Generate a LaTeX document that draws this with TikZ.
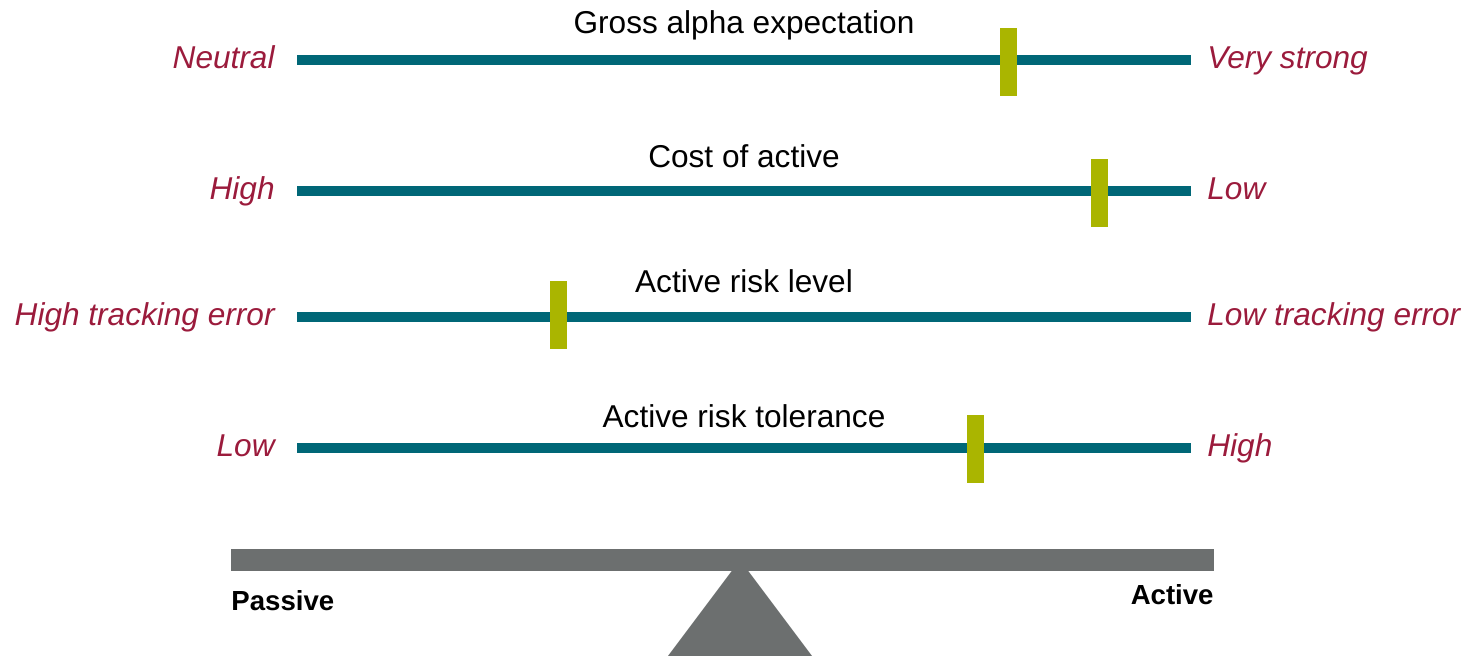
\documentclass[tikz,border=0pt]{standalone}
\usepackage{fontspec}
\setmainfont{Liberation Sans}
\usepackage{tikz}
\usetikzlibrary{positioning}
\definecolor{barteal}{RGB}{0,103,119}
\definecolor{markolive}{RGB}{170,181,0}
\definecolor{polered}{RGB}{155,27,60}
\definecolor{beamgray}{RGB}{108,111,111}

\begin{document}
\begin{tikzpicture}
    [ x = .5pt, y = .5pt
    , bar/.style =
      { barteal, line width=5pt }
    , marker/.style =
      { fill=markolive, inner sep=0pt, minimum width=8.5pt, minimum height=34pt }
    , title/.style =
      { font=\fontsize{15.8}{19}\selectfont, inner sep=0pt, text height=9pt, text depth=3.5pt }
    , pole/.style =
      { title, polered, font=\fontsize{15.8}{19}\selectfont\itshape, yshift=-1.75pt }
    , side/.style =
      { font=\fontsize{13.8}{16}\selectfont\bfseries, inner sep=0pt }
    ]
    \useasboundingbox (0,0) rectangle (1469,656);

    % scale ends
    \coordinate (l1) at (297,596);
    \coordinate (r1) at (1191,596);
    \coordinate (c1) at (744,596);
    \coordinate (l2) at (297,465);
    \coordinate (r2) at (1191,465);
    \coordinate (c2) at (744,465);
    \coordinate (l3) at (297,339);
    \coordinate (r3) at (1191,339);
    \coordinate (c3) at (744,339);
    \coordinate (l4) at (297,208);
    \coordinate (r4) at (1191,208);
    \coordinate (c4) at (744,208);

    \draw [bar] (l1) -- (r1);
    \draw [bar] (l2) -- (r2);
    \draw [bar] (l3) -- (r3);
    \draw [bar] (l4) -- (r4);

    \node [title] (t1) [above=9.5pt of c1] {Gross alpha expectation};
    \node [title] (t2) [above=8pt of c2] {Cost of active};
    \node [title] (t3) [above=8.5pt of c3] {Active risk level};
    \node [title] (t4) [above=6.5pt of c4] {Active risk tolerance};

    \node [pole] (p1l) [left=11pt of l1] {Neutral};
    \node [pole] (p1r) [right=8pt of r1] {Very strong};
    \node [pole] (p2l) [left=11pt of l2] {High};
    \node [pole] (p2r) [right=8pt of r2] {Low};
    \node [pole] (p3l) [left=11pt of l3] {High tracking error};
    \node [pole] (p3r) [right=8pt of r3] {Low tracking error};
    \node [pole] (p4l) [left=11pt of l4] {Low};
    \node [pole] (p4r) [right=8pt of r4] {High};

    \node [marker] (m1) at (1008,594) {};
    \node [marker] (m2) at (1099,463) {};
    \node [marker] (m3) at (558.5,340.5) {};
    \node [marker] (m4) at (975.5,207) {};

    % seesaw
    \fill [beamgray] (740,96) -- (668,0) -- (812,0) -- cycle;
    \fill [beamgray] (231,85) rectangle (1214,107);
    \node [side, anchor=base west] (passive) at (231,45) {Passive};
    \node [side, anchor=base east] (active) at (1214,51) {Active};
\end{tikzpicture}
\end{document}
